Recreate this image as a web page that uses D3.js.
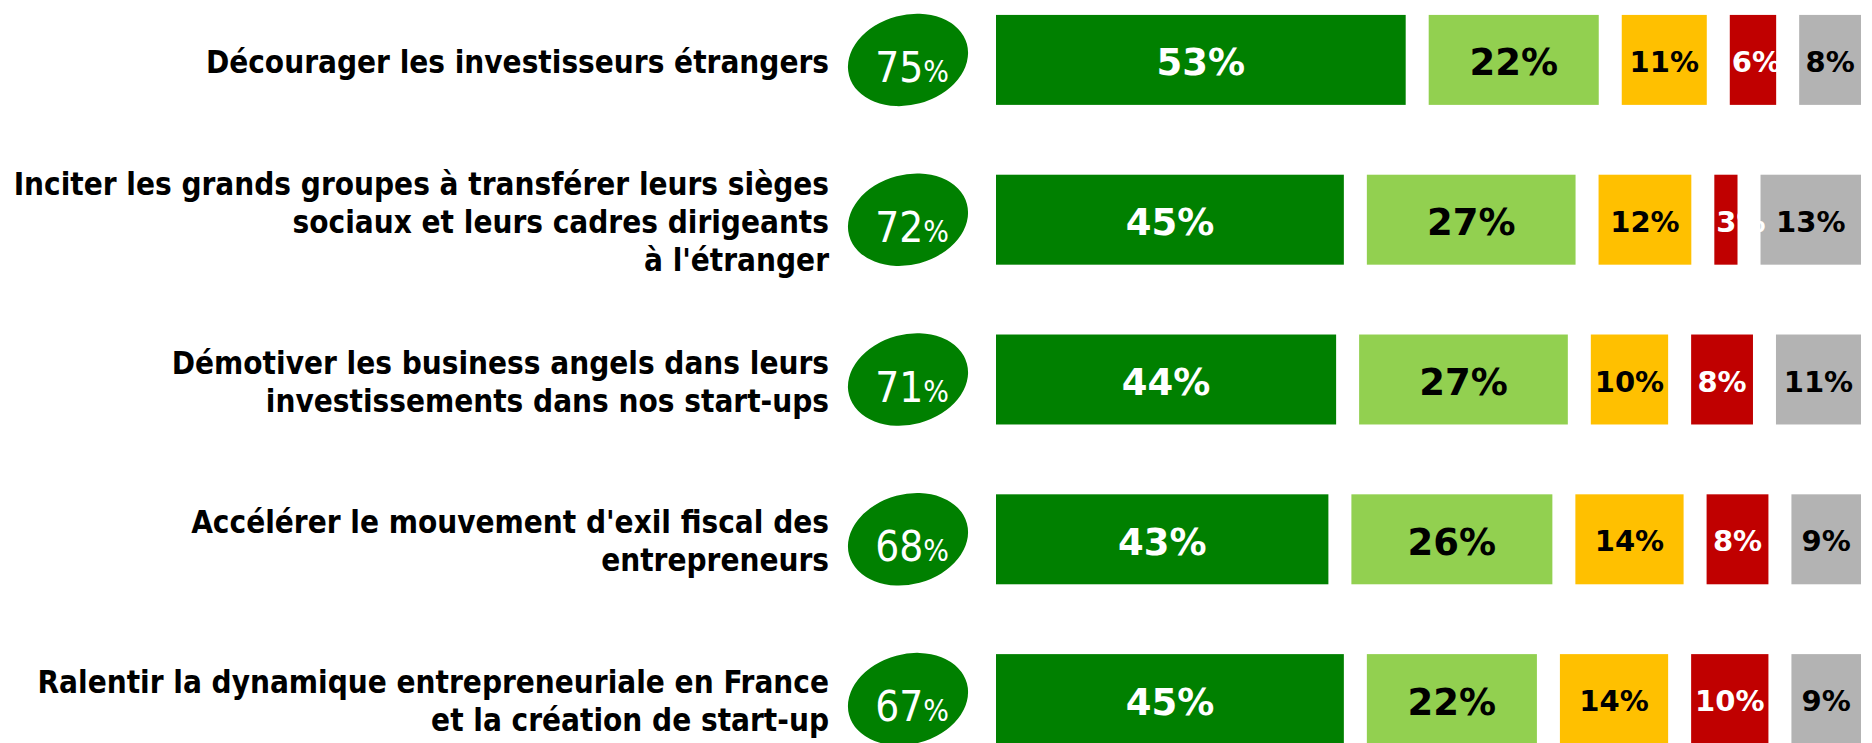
<!DOCTYPE html>
<html>
<head>
<meta charset="utf-8">
<script src="https://cdn.jsdelivr.net/npm/d3@7"></script>
<style>
  html, body { margin: 0; padding: 0; background: #ffffff; overflow: hidden; }
  svg { display: block; }
</style>
</head>
<body>
<svg id="chart" width="1872" height="743"></svg>
<script>
// ---------- data ----------
const categories = [
  "Décourager les investisseurs étrangers",
  "Inciter les grands groupes à transférer leurs sièges\nsociaux et leurs cadres dirigeants\nà l'étranger",
  "Démotiver les business angels dans leurs\ninvestissements dans nos start-ups",
  "Accélérer le mouvement d'exil fiscal des\nentrepreneurs",
  "Ralentir la dynamique entrepreneuriale en France\net la création de start-up"
];
const totals = [75, 72, 71, 68, 67];
const seriesNames = ["Tout à fait", "Plutôt", "Plutôt pas", "Pas du tout", "Ne se prononce pas"];
const toutAFait  = [53, 45, 44, 43, 45];
const plutot     = [22, 27, 27, 26, 22];
const plutotPas  = [11, 12, 10, 14, 14];
const pasDuTout  = [6, 3, 8, 8, 10];
const nsp        = [8, 13, 11, 9, 9];

// ---------- styles ----------
const seriesValues = [toutAFait, plutot, plutotPas, pasDuTout, nsp];
const colors = ["#008000", "#92D050", "#FFC000", "#C00000", "#B3B3B3"];
const textColors = ["#ffffff", "#000000", "#000000", "#ffffff", "#000000"];
const labelSizes = [37, 37, 29, 29, 29];

const svg = d3.select("#chart");
const barX0 = 996, gap = 23;

const x = d3.scaleLinear().domain([0, 100]).range([0, 773]);
const y = d3.scaleBand().domain(categories).range([-20, 779])
  .paddingInner(0.437).paddingOuter(0.2185);

const rows = categories.map((c, r) => {
  let cum = 0;
  const segs = seriesValues.map((vals, i) => {
    const s = { cat: c, i, v: vals[r], start: cum };
    cum += vals[r];
    return s;
  });
  return { cat: c, total: totals[r], segs };
});

const g = svg.selectAll("g.row").data(rows).join("g").attr("class", "row");

// bars
g.selectAll("rect").data(d => d.segs).join("rect")
  .attr("x", d => barX0 + x(d.start) + d.i * gap)
  .attr("y", d => y(d.cat))
  .attr("width", d => x(d.v))
  .attr("height", y.bandwidth())
  .attr("fill", d => colors[d.i]);

// bar labels (centred; if wider than the bar, start at the bar's left edge)
g.selectAll("text.val").data(d => d.segs).join("text")
  .attr("class", "val")
  .attr("y", d => y(d.cat) + y.bandwidth() / 2 + 0.42 * labelSizes[d.i])
  .attr("font-family", "'DejaVu Sans', Verdana, sans-serif")
  .attr("font-weight", "bold")
  .attr("font-size", d => labelSizes[d.i])
  .attr("fill", d => textColors[d.i])
  .text(d => d.v + "%")
  .each(function(d) {
    const bx = barX0 + x(d.start) + d.i * gap, bw = x(d.v);
    const tw = this.getComputedTextLength();
    const sel = d3.select(this);
    if (tw > bw) sel.attr("text-anchor", "start").attr("x", bx + 2);
    else sel.attr("text-anchor", "middle").attr("x", bx + bw / 2);
  });

// category labels
const lineH = 38;
g.append("text")
  .attr("class", "cat")
  .attr("text-anchor", "end")
  .attr("font-family", "'DejaVu Sans Condensed', 'DejaVu Sans', sans-serif")
  .attr("font-stretch", "condensed")
  .attr("font-weight", "bold")
  .attr("font-size", 31.2)
  .attr("fill", "#000")
  .each(function(d) {
    const lines = d.cat.split("\n");
    const cy = y(d.cat) + y.bandwidth() / 2;
    d3.select(this).selectAll("tspan").data(lines).join("tspan")
      .attr("x", 829)
      .attr("y", (l, k) => cy + 13 + (k - (lines.length - 1) / 2) * lineH)
      .text(l => l);
  });

// ellipses with totals
const ecx = 908;
g.append("ellipse")
  .attr("cx", 0).attr("cy", 0).attr("rx", 61).attr("ry", 45)
  .attr("fill", "#008000")
  .attr("transform", d => `translate(${ecx},${y(d.cat) + y.bandwidth() / 2}) rotate(-15)`);

const tt = g.append("text")
  .attr("x", ecx + 4)
  .attr("y", d => y(d.cat) + y.bandwidth() / 2 + 22)
  .attr("text-anchor", "middle")
  .attr("font-family", "'DejaVu Sans Condensed', 'DejaVu Sans', sans-serif")
  .attr("font-stretch", "condensed")
  .attr("fill", "#ffffff");
tt.append("tspan").attr("font-size", 42).text(d => d.total);
tt.append("tspan").attr("font-size", 30).text("%");
</script>
</body>
</html>
